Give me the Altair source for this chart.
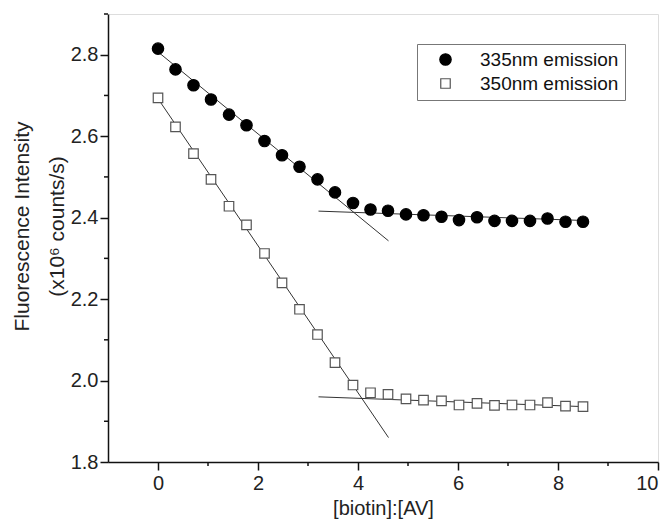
import altair as alt
import pandas as pd

# data
x_vals = [0, 0.35, 0.71, 1.06, 1.42, 1.77, 2.13, 2.48, 2.83, 3.19, 3.54, 3.9, 4.25,
          4.6, 4.96, 5.31, 5.67, 6.02, 6.38, 6.73, 7.08, 7.44, 7.79, 8.15, 8.5]
em335 = [2.815, 2.764, 2.725, 2.690, 2.653, 2.627, 2.588, 2.553, 2.525, 2.494, 2.462,
         2.436, 2.420, 2.417, 2.408, 2.406, 2.402, 2.394, 2.401, 2.392, 2.392, 2.392,
         2.398, 2.390, 2.390]
em350 = [2.694, 2.623, 2.557, 2.494, 2.428, 2.382, 2.312, 2.240, 2.175, 2.113, 2.044,
         1.989, 1.970, 1.966, 1.955, 1.952, 1.950, 1.940, 1.944, 1.939, 1.940, 1.940,
         1.946, 1.937, 1.936]
series_names = ["335nm emission", "350nm emission"]

# fitted line segments (endpoints)
fit_ids = ["c_steep", "c_steep", "c_flat", "c_flat", "s_steep", "s_steep", "s_flat", "s_flat"]
fit_x = [0, 4.61, 3.21, 8.51, 0, 4.61, 3.21, 8.51]
fit_y = [2.807, 2.343, 2.416, 2.393, 2.692, 1.860, 1.960, 1.936]

x_major = [0, 2, 4, 6, 8, 10]
x_minor = [1, 3, 5, 7, 9]
y_major = [1.8, 2.0, 2.2, 2.4, 2.6, 2.8]
y_minor = [1.9, 2.1, 2.3, 2.5, 2.7, 2.9]

pts = pd.DataFrame({
    "x": x_vals * 2,
    "y": em335 + em350,
    "series": [series_names[0]] * len(x_vals) + [series_names[1]] * len(x_vals),
})
fits = pd.DataFrame({"id": fit_ids, "x": fit_x, "y": fit_y})

FONT = "Liberation Sans"
xs = alt.Scale(domain=[-1, 10], nice=False, zero=False)
ys = alt.Scale(domain=[1.8, 2.9], nice=False, zero=False)

X = alt.X("x:Q", scale=xs, axis=alt.Axis(values=x_major, title="[biotin]:[AV]",
                                         labelPadding=3, titlePadding=5,
                                         titleFontSize=20))
Y = alt.Y("y:Q", scale=ys, axis=alt.Axis(values=y_major, format=".1f",
                                         title=["Fluorescence Intensity", "(x10\u2076 counts/s)"],
                                         labelPadding=2, titlePadding=3, titleLineHeight=35,
                                         titleFontSize=21, titleY=212))

lines = alt.Chart(fits).mark_line(color="#333", strokeWidth=1).encode(
    x=X, y=Y, detail="id:N",
)

leg = alt.Legend(title=None)
points = alt.Chart(pts).mark_point(filled=True, strokeWidth=1.2, opacity=1).encode(
    x=X, y=Y,
    shape=alt.Shape("series:N", scale=alt.Scale(domain=series_names, range=["circle", "square"]),
                    legend=leg),
    fill=alt.Fill("series:N", scale=alt.Scale(domain=series_names, range=["black", "white"]),
                  legend=leg),
    stroke=alt.Stroke("series:N", scale=alt.Scale(domain=series_names, range=["black", "#555"]),
                      legend=leg),
    size=alt.Size("series:N", scale=alt.Scale(domain=series_names, range=[130, 90]),
                  legend=leg),
)

xmin = alt.Chart(pd.DataFrame({"x": x_minor})).mark_rule(color="#111", strokeWidth=1.5).encode(
    x=alt.X("x:Q", scale=xs), y=alt.value(448), y2=alt.value(452))
ymin = alt.Chart(pd.DataFrame({"y": y_minor})).mark_rule(color="#111", strokeWidth=1.5).encode(
    y=alt.Y("y:Q", scale=ys), x=alt.value(0), x2=alt.value(-4))

chart = alt.layer(lines, points, xmin, ymin).properties(
    width=550, height=448,
    autosize=alt.AutoSizeParams(type="none"),
    padding={"left": 100, "top": 6, "right": 5, "bottom": 60},
).configure_view(stroke=None).configure(font=FONT).configure_axis(
    grid=False, tickSize=8, labelFontSize=20, titleFontWeight="normal",
    labelColor="#222", titleColor="#222", domainColor="#111", domainWidth=1.5,
    tickColor="#111", tickWidth=1.5, labelFont=FONT, titleFont=FONT,
).configure_legend(
    orient="none", legendX=309, legendY=30, strokeColor="#777", padding=6,
    symbolOffset=13, labelFontSize=19, labelFont=FONT, labelColor="#111", labelOffset=25,
    rowPadding=4, fillColor="white", symbolStrokeWidth=1.2,
)

chart.save("out.html", embed_options={"renderer": "svg", "actions": False})
